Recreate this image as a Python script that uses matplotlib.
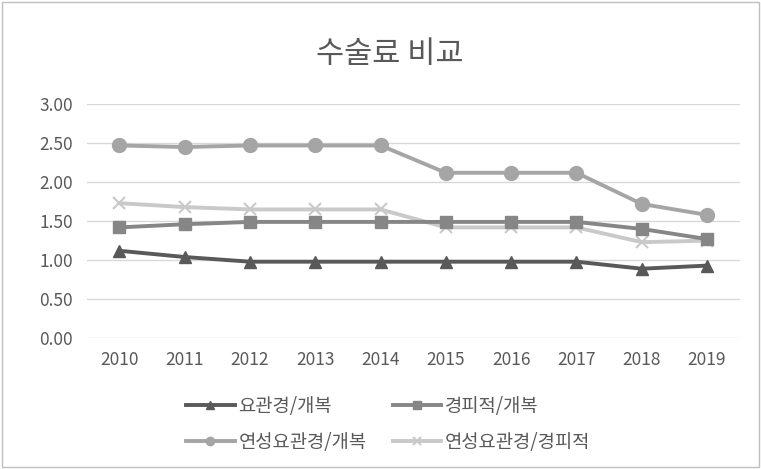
import numpy as np
import matplotlib.pyplot as plt

plt.rcParams['font.family'] = ['Noto Sans CJK KR', 'DejaVu Sans']

years = ['2010', '2011', '2012', '2013', '2014', '2015', '2016', '2017', '2018', '2019']
s1 = [1.12, 1.04, 0.98, 0.98, 0.98, 0.98, 0.98, 0.98, 0.89, 0.93]
s2 = [1.42, 1.46, 1.49, 1.49, 1.49, 1.49, 1.49, 1.49, 1.40, 1.27]
s3 = [2.47, 2.45, 2.47, 2.47, 2.47, 2.12, 2.12, 2.12, 1.72, 1.58]
s4 = [1.73, 1.68, 1.65, 1.65, 1.65, 1.42, 1.42, 1.42, 1.23, 1.25]
names = ['요관경/개복', '경피적/개복', '연성요관경/개복', '연성요관경/경피적']

fig = plt.figure(figsize=(7.61, 4.69), dpi=100)
ax = fig.add_axes([0.114, 0.279, 0.858, 0.499])

x = np.arange(len(years))
l1, = ax.plot(x, s1, color='#595959', lw=2.8, marker='^', ms=9, label=names[0], zorder=5)
l2, = ax.plot(x, s2, color='#868686', lw=2.8, marker='s', ms=9, label=names[1], zorder=4)
l3, = ax.plot(x, s3, color='#a5a5a5', lw=2.8, marker='o', ms=10, label=names[2], zorder=3)
l4, = ax.plot(x, s4, color='#c9c9c9', lw=2.8, marker='x', ms=9, mew=1.5, label=names[3], zorder=3)

ax.set_xlim(-0.5, len(years) - 0.5)
ax.set_ylim(0, 3)
ax.set_yticks(np.arange(0, 3.01, 0.5))
ax.set_yticklabels(['%.2f' % v for v in np.arange(0, 3.01, 0.5)])
ax.set_xticks(x)
ax.set_xticklabels(years)
ax.grid(axis='y', color='#d9d9d9', lw=1)
ax.set_axisbelow(True)
for sp in ax.spines.values():
    sp.set_visible(False)
ax.tick_params(length=0, labelsize=12.5, colors='#595959', pad=9)
ax.tick_params(axis='y', pad=10)

fig.text(0.512, 0.883, '수술료 비교', ha='center', va='center', fontsize=22, color='#595959')

# row-wise order like the original (matplotlib fills legends column by column)
leg = fig.legend([l1, l3, l2, l4], [names[0], names[2], names[1], names[3]],
                 loc='upper left', bbox_to_anchor=(0.222, 0.192), ncol=2, frameon=False,
                 fontsize=13.5, handlelength=2.6, columnspacing=1.4, labelspacing=0.8,
                 labelcolor='#595959', handletextpad=0.2, markerscale=0.6)

fig.add_artist(plt.Rectangle((0.003, 0.005), 0.994, 0.99, transform=fig.transFigure,
                             fill=False, edgecolor='#bfbfbf', lw=1))

fig.savefig('out.png', dpi=100)
